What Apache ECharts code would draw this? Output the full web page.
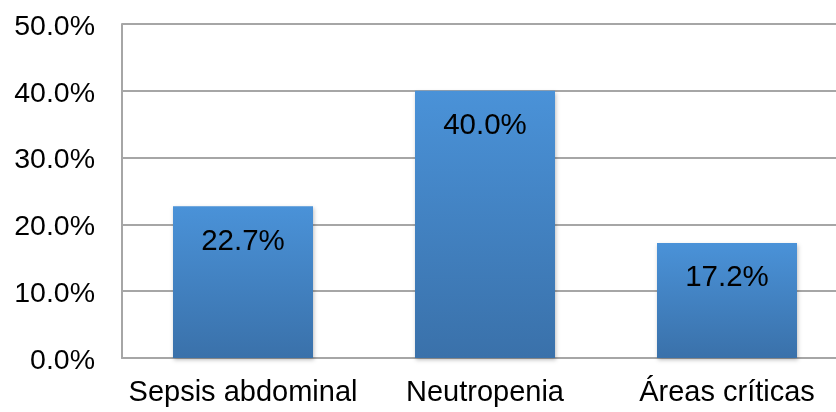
<!DOCTYPE html>
<html>
<head>
<meta charset="utf-8">
<script src="https://cdn.jsdelivr.net/npm/echarts@6/dist/echarts.min.js"></script>
<style>
  html, body { margin: 0; padding: 0; background: #fff; overflow: hidden; width: 836px; height: 412px; }
  /* the plot area runs a little past the right edge of the window */
  #chart { width: 848px; height: 412px; }
</style>
</head>
<body>
<div id="chart"></div>
<script>
// Categories and percentage values
const categories = ['Sepsis abdominal', 'Neutropenia', 'Áreas críticas'];
const values = [22.7, 40.0, 17.2];
const yTicks = [0, 10, 20, 30, 40, 50];

const chart = echarts.init(document.getElementById('chart'));
const font = 'Liberation Sans, Arial, sans-serif';

chart.setOption({
  animation: false,
  grid: { left: 122, right: 0, top: 24, bottom: 54, containLabel: false },
  xAxis: {
    type: 'category',
    data: categories,
    axisLine: { show: true, lineStyle: { color: '#a6a6a6', width: 2 } },
    axisTick: { show: false },
    axisLabel: { color: '#000', fontSize: 29, fontFamily: font, margin: 20, interval: 0 }
  },
  yAxis: {
    type: 'value',
    min: yTicks[0],
    max: yTicks[yTicks.length - 1],
    interval: 10,
    axisLine: { show: true, lineStyle: { color: '#a6a6a6', width: 2 } },
    axisTick: { show: false },
    splitLine: { lineStyle: { color: '#a6a6a6', width: 2 } },
    axisLabel: {
      color: '#000', fontSize: 28.5, fontFamily: font, margin: 27,
      formatter: v => '{t|' + v.toFixed(1) + '%}',
      rich: {
        t: { fontSize: 28.5, fontFamily: font, color: '#000', padding: [6, 0, 0, 0] }
      }
    }
  },
  series: [{
    type: 'bar',
    data: values,
    barWidth: 140,
    itemStyle: {
      color: new echarts.graphic.LinearGradient(0, 0, 0, 1, [
        { offset: 0, color: '#4a92d8' },
        { offset: 1, color: '#3a71aa' }
      ]),
      shadowColor: 'rgba(0,0,0,0.25)',
      shadowBlur: 4,
      shadowOffsetX: 1,
      shadowOffsetY: 2
    },
    label: {
      show: true,
      position: 'insideTop',
      distance: 20,
      color: '#000',
      fontSize: 29.5,
      fontFamily: font,
      formatter: p => p.value.toFixed(1) + '%'
    }
  }]
});
</script>
</body>
</html>
